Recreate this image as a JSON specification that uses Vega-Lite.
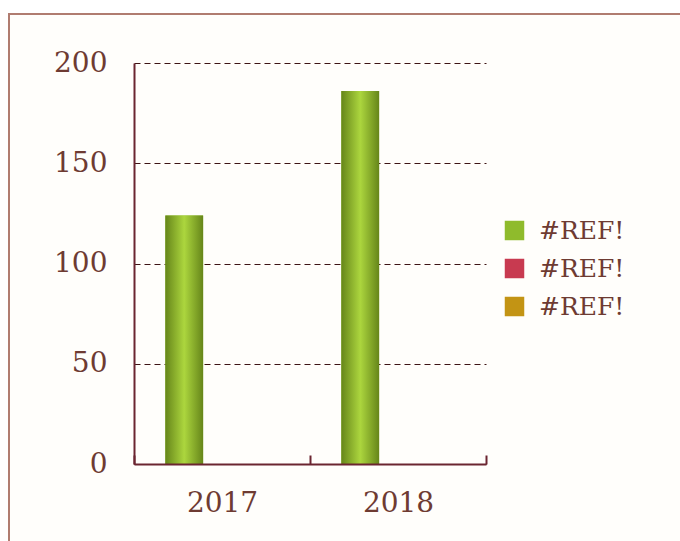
{
  "$schema": "https://vega.github.io/schema/vega-lite/v6.json",
  "width": 675,
  "height": 531,
  "autosize": {"type": "none"},
  "padding": {"left": 9, "top": 14, "right": 0, "bottom": 0},
  "background": "white",
  "config": {
    "view": {"stroke": "#b07c70", "strokeWidth": 2, "fill": "#fffefb"},
    "font": "DejaVu Serif"
  },
  "data": {
    "values": [
      {"year": "2017", "series": "A", "value": 124},
      {"year": "2017", "series": "B", "value": null},
      {"year": "2017", "series": "C", "value": null},
      {"year": "2018", "series": "A", "value": 186},
      {"year": "2018", "series": "B", "value": null},
      {"year": "2018", "series": "C", "value": null}
    ]
  },
  "encoding": {
    "x": {
      "field": "year", "type": "nominal",
      "scale": {"range": [125, 477], "paddingInner": 0, "paddingOuter": 0},
      "axis": {
        "title": null, "orient": "bottom", "offset": -81, "labelAngle": 0,
        "domainColor": "#6b2530", "domainWidth": 2,
        "tickBand": "extent", "tickSize": -9, "tickColor": "#6b2530", "tickWidth": 2,
        "labelFont": "DejaVu Serif", "labelFontSize": 28, "labelColor": "#6e3b32",
        "labelPadding": 34, "grid": false, "zindex": 1
      }
    },
    "xOffset": {"field": "series", "type": "nominal", "scale": {"domain": ["A", "B", "C"], "paddingInner": 0, "paddingOuter": 0.83}},
    "y": {
      "field": "value", "type": "quantitative",
      "scale": {"domain": [0, 200], "range": [450, 49], "nice": false},
      "axis": {
        "title": null, "orient": "left", "offset": -125, "values": [0, 50, 100, 150, 200],
        "domainColor": "#6b2530", "domainWidth": 2, "ticks": false,
        "labelFont": "DejaVu Serif", "labelFontSize": 28, "labelColor": "#6e3b32",
        "labelPadding": 27,
        "grid": true, "gridColor": "#3e1414", "gridDash": [6, 4], "gridWidth": 1.2
      }
    }
  },
  "layer": [
    {
      "mark": {"type": "bar"},
      "encoding": {
        "color": {
          "field": "series", "type": "nominal",
          "scale": {"domain": ["A", "B", "C"], "range": ["#8fbb2c", "#c83a50", "#c39414"]},
          "legend": {
            "title": null, "orient": "none", "legendX": 493, "legendY": 204,
            "symbolType": "square", "symbolSize": 380, "symbolStrokeWidth": 0,
            "labelExpr": "'#REF!'", "labelFont": "DejaVu Serif", "labelFontSize": 25,
            "labelColor": "#6e3b32", "rowPadding": 12, "labelOffset": 12
          }
        }
      }
    },
    {
      "mark": {
        "type": "bar",
        "color": {"gradient": "linear", "x1": 0, "y1": 0, "x2": 1, "y2": 0, "stops": [{"offset": 0, "color": "#66861a"}, {"offset": 0.5, "color": "#acd63e"}, {"offset": 1, "color": "#66861a"}]}
      }
    }
  ]
}
